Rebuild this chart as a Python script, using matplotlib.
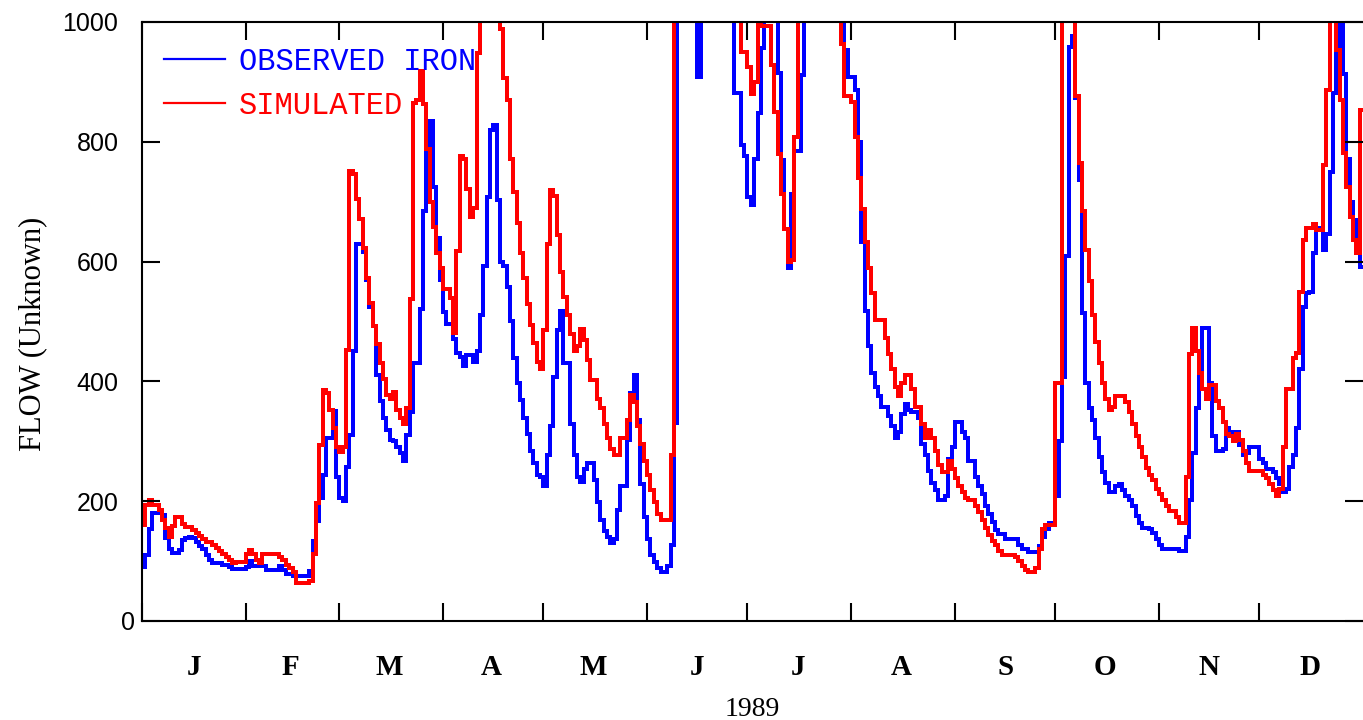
import matplotlib
matplotlib.use("Agg")
import matplotlib.pyplot as plt
import matplotlib.transforms as mtransforms
import numpy as np

# daily values for 1989, day 0 = Jan 1 (values above 1000 run off the top of the plot)
observed_iron = [
    90, 110, 153, 180, 180, 180, 177, 138, 120, 113,
    113, 118, 135, 138, 140, 138, 132, 126, 120, 110,
    102, 97, 97, 97, 93, 93, 90, 86, 86, 86,
    86, 90, 100, 91, 91, 91, 91, 85, 85, 85,
    85, 91, 85, 79, 79, 75, 75, 75, 75, 75,
    83, 133, 167, 205, 244, 305, 305, 350, 240, 205,
    200, 257, 310, 450, 629, 629, 616, 570, 524, 492,
    410, 368, 339, 319, 303, 300, 290, 280, 267, 310,
    349, 430, 430, 521, 684, 785, 834, 725, 640, 569,
    516, 496, 496, 470, 448, 440, 425, 444, 444, 433,
    450, 511, 592, 708, 820, 828, 703, 600, 592, 558,
    500, 439, 397, 369, 339, 313, 283, 264, 244, 241,
    225, 277, 326, 407, 485, 518, 430, 430, 329, 277,
    241, 232, 254, 264, 264, 235, 199, 169, 150, 140,
    130, 137, 186, 225, 225, 303, 381, 410, 335, 228,
    173, 137, 111, 98, 88, 81, 81, 91, 127, 330,
    1200, 1300, 1350, 1300, 1200, 1100, 909, 1100, 1250, 1350,
    1400, 1400, 1350, 1300, 1250, 1200, 1100, 881, 881, 795,
    776, 708, 694, 772, 848, 957, 1100, 1200, 1200, 1100,
    915, 769, 655, 590, 713, 785, 785, 912, 1100, 1200,
    1300, 1350, 1400, 1400, 1350, 1300, 1250, 1200, 1100, 1050,
    954, 909, 909, 886, 800, 632, 518, 459, 414, 391,
    375, 358, 358, 342, 326, 306, 316, 345, 362, 352,
    349, 349, 339, 296, 277, 251, 231, 218, 202, 202,
    208, 270, 290, 332, 332, 315, 306, 267, 267, 241,
    225, 212, 192, 179, 166, 152, 145, 145, 137, 137,
    137, 137, 127, 121, 121, 115, 115, 115, 126, 140,
    153, 163, 163, 208, 300, 407, 609, 958, 977, 873,
    736, 515, 397, 355, 335, 306, 274, 248, 231, 215,
    215, 225, 228, 218, 208, 202, 192, 176, 163, 156,
    156, 153, 147, 137, 127, 121, 121, 121, 121, 121,
    117, 117, 140, 202, 280, 355, 414, 489, 489, 397,
    309, 283, 283, 287, 322, 315, 315, 315, 293, 277,
    280, 290, 290, 290, 270, 264, 254, 254, 248, 238,
    228, 215, 221, 257, 277, 322, 420, 525, 547, 550,
    614, 653, 656, 619, 646, 750, 881, 954, 1100, 914,
    772, 700, 669, 614, 591,
]

simulated = [
    160, 193, 202, 193, 193, 185, 168, 155, 140, 158,
    173, 173, 162, 157, 157, 152, 147, 142, 137, 132,
    132, 127, 122, 117, 112, 107, 102, 97, 98, 98,
    98, 112, 118, 112, 102, 97, 112, 112, 112, 112,
    112, 107, 102, 94, 88, 82, 63, 63, 63, 63,
    67, 112, 197, 293, 385, 380, 352, 322, 290, 282,
    290, 453, 752, 746, 704, 671, 622, 573, 531, 492,
    463, 430, 404, 378, 371, 382, 352, 339, 329, 355,
    537, 865, 870, 918, 863, 788, 700, 658, 614, 590,
    555, 555, 540, 480, 617, 776, 772, 722, 675, 689,
    948, 1150, 1250, 1300, 1250, 1150, 1050, 989, 906, 870,
    772, 717, 664, 614, 572, 530, 494, 464, 433, 420,
    485, 629, 720, 710, 645, 583, 541, 511, 479, 450,
    459, 488, 469, 436, 402, 402, 371, 355, 329, 306,
    287, 277, 277, 306, 306, 335, 378, 365, 326, 296,
    267, 244, 218, 199, 179, 169, 169, 169, 277, 1200,
    1350, 1450, 1500, 1500, 1450, 1400, 1350, 1300, 1300, 1350,
    1400, 1400, 1350, 1300, 1250, 1200, 1150, 1100, 1050, 950,
    950, 925, 880, 899, 1030, 994, 994, 994, 928, 850,
    779, 713, 655, 600, 603, 808, 1100, 1200, 1300, 1350,
    1300, 1250, 1200, 1200, 1150, 1150, 1100, 1080, 1050, 964,
    876, 876, 866, 808, 739, 687, 632, 590, 547, 502,
    502, 502, 472, 446, 420, 391, 375, 397, 410, 410,
    388, 358, 358, 329, 306, 319, 306, 283, 261, 248,
    248, 267, 254, 238, 225, 215, 206, 202, 202, 192,
    182, 169, 156, 143, 134, 127, 117, 111, 111, 111,
    111, 107, 101, 91, 85, 81, 81, 88, 121, 153,
    160, 160, 160, 397, 397, 1150, 1250, 1200, 1050, 876,
    765, 684, 619, 567, 511, 466, 430, 397, 371, 352,
    358, 375, 375, 375, 365, 349, 329, 309, 290, 274,
    255, 244, 235, 221, 212, 202, 192, 184, 184, 173,
    163, 163, 241, 446, 489, 450, 414, 388, 371, 394,
    394, 368, 355, 332, 313, 309, 300, 313, 303, 283,
    264, 251, 251, 251, 251, 244, 238, 228, 218, 208,
    221, 290, 388, 388, 439, 447, 550, 636, 656, 656,
    663, 653, 653, 761, 886, 1080, 1040, 953, 870, 781,
    725, 675, 636, 614, 853,
]

month_starts = [0, 31, 59, 90, 120, 151, 181, 212, 243, 273, 304, 334]
month_mids = [15.5, 44.5, 74, 104.5, 135, 166, 196, 227, 258, 288, 319, 349]
month_labels = ["J", "F", "M", "A", "M", "J", "J", "A", "S", "O", "N", "D"]
y_ticks = [0, 200, 400, 600, 800, 1000]

days = np.arange(len(observed_iron) + 1)

fig = plt.figure(figsize=(13.63, 7.2), dpi=100)
ax = fig.add_axes([142 / 1363, 99 / 720, 1221 / 1363, 599 / 720])

ax.stairs(observed_iron, days, baseline=None, color="#0000ff", linewidth=1.6,
          antialiased=False, label="OBSERVED IRON")
ax.stairs(simulated, days, baseline=None, color="#ff0000", linewidth=1.6,
          antialiased=False, label="SIMULATED")

ax.set_xlim(0, 365)
ax.set_ylim(0, 1000)

ax.set_xticks(month_starts)
ax.set_xticks(month_mids, minor=True)
ax.set_xticklabels([])
ax.set_xticklabels(month_labels, minor=True, family="Liberation Serif",
                   fontweight="bold", fontsize=21)
ax.tick_params(axis="x", which="major", direction="in", length=13, width=1.5,
               top=True, bottom=True)
ax.tick_params(axis="x", which="minor", length=0, pad=24)

ax.set_yticks(y_ticks)
ax.set_yticklabels([str(v) for v in y_ticks], family="Liberation Sans", fontsize=18)
ax.tick_params(axis="y", direction="in", length=13, width=1.5, left=True, right=True,
               pad=17)

# the "0" label sits closer to the axis in the original
zero_lbl = ax.yaxis.get_major_ticks()[0].label1
zero_lbl.set_transform(zero_lbl.get_transform()
                       + mtransforms.ScaledTranslation(0.17, 0, fig.dpi_scale_trans))

for side in ["left", "bottom", "top"]:
    ax.spines[side].set_linewidth(1.5)
ax.spines["right"].set_visible(False)

ax.set_xlabel("1989", family="Liberation Serif", fontsize=20, labelpad=11)
ax.set_ylabel("FLOW (Unknown)", family="Liberation Serif", fontsize=22)
ax.yaxis.set_label_coords(-0.078, 0.48)

leg = ax.legend(loc="upper left", bbox_to_anchor=(0.018, 0.958), frameon=False,
                prop={"family": "Liberation Mono", "size": 22}, labelcolor="linecolor",
                handlelength=2.0, handletextpad=0.45, labelspacing=0.45,
                borderpad=0, borderaxespad=0)
for line in leg.get_lines():
    line.set_linewidth(1.6)

fig.savefig("out.png", dpi=100)
